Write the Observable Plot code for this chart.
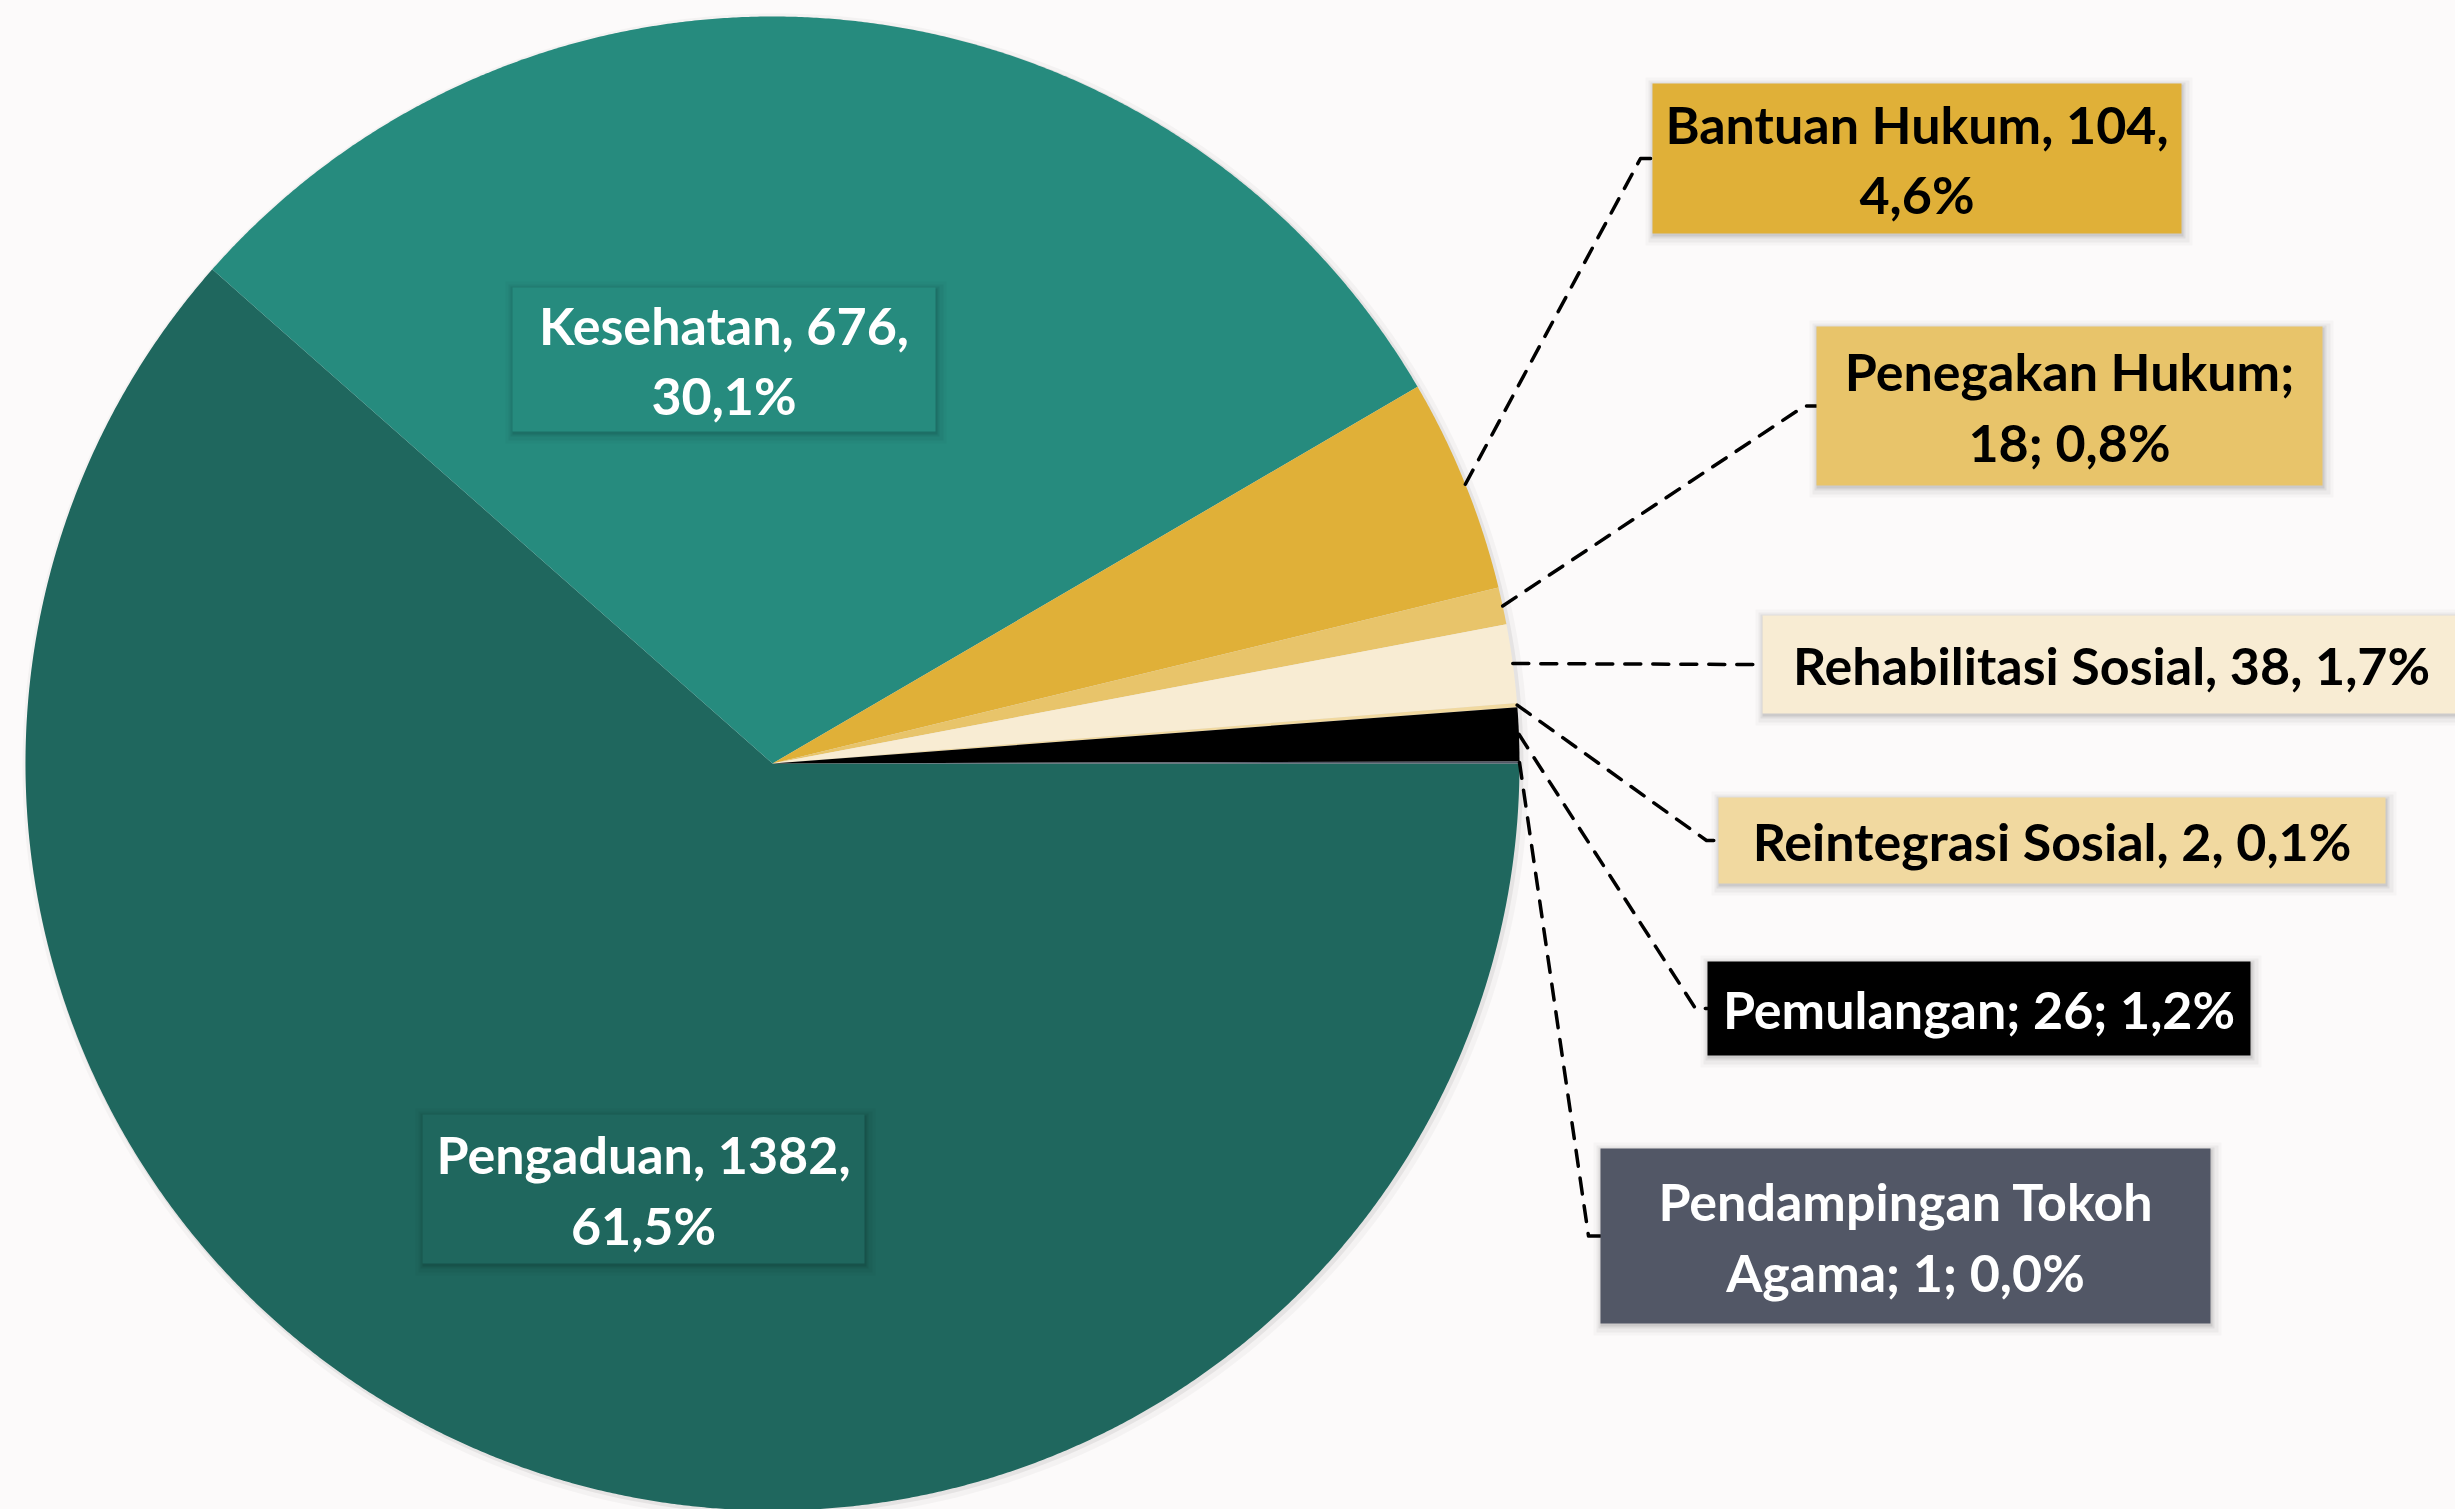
<!DOCTYPE html>
<html>
<head>
<meta charset="utf-8">
<script src="https://cdn.jsdelivr.net/npm/d3@7"></script>
<script src="https://cdn.jsdelivr.net/npm/@observablehq/plot@0.6"></script>
<style>
  html, body { margin: 0; padding: 0; background: #fcfafa; }
  #chart svg { display: block; }
</style>
</head>
<body>
<div id="chart"></div>
<script>
// ---------- data ----------
const categories = [
  "Pengaduan", "Kesehatan", "Bantuan Hukum", "Penegakan Hukum",
  "Rehabilitasi Sosial", "Reintegrasi Sosial", "Pemulangan", "Pendampingan Tokoh Agama"
];
const values = [1382, 676, 104, 18, 38, 2, 26, 1];
const labels = [
  "Pengaduan, 1382,\n61,5%",
  "Kesehatan, 676,\n30,1%",
  "Bantuan Hukum, 104,\n4,6%",
  "Penegakan Hukum;\n18; 0,8%",
  "Rehabilitasi Sosial, 38, 1,7%",
  "Reintegrasi Sosial, 2, 0,1%",
  "Pemulangan; 26; 1,2%",
  "Pendampingan Tokoh\nAgama; 1; 0,0%"
];
const colors = ["#1f675e", "#268b7e", "#e0b038", "#e8c46a", "#f8ecd3", "#f1d9a0", "#000000", "#525766"];
const textColors = ["#ffffff", "#ffffff", "#000000", "#000000", "#000000", "#000000", "#ffffff", "#ffffff"];

// ---------- layout (pixels) ----------
const W = 2455, H = 1509;
const CX = 772, CY = 763, R = 747;
// label boxes: [left, top, right, bottom]
const boxes = [
  [422, 1114, 864, 1263],
  [512, 287, 935, 431],
  [1652, 83, 2181, 233],
  [1816, 326, 2322, 485],
  [1762, 615, 2460, 713],
  [1718, 797, 2385, 883],
  [1707, 961, 2250, 1055],
  [1600, 1148, 2210, 1323]
];
const hasLeader = [false, false, true, true, true, true, true, true];
const tick = 12;
const FONT = "Lato, 'Open Sans', sans-serif";

// ---------- build geometry from data ----------
const rows = categories.map((c, i) => ({
  category: c, value: values[i], label: labels[i],
  color: colors[i], textColor: textColors[i], box: boxes[i], leader: hasLeader[i]
}));

const pie = d3.pie().sort(null).value(d => d.value)
  .startAngle(Math.PI / 2).endAngle(Math.PI / 2 + 2 * Math.PI);
const arcs = pie(rows);
const pt = (a, r) => [CX + r * Math.sin(a), CY - r * Math.cos(a)];

const slices = arcs.map(a => {
  const n = Math.max(2, Math.ceil((a.endAngle - a.startAngle) / 0.004));
  const ring = [[CX, CY]];
  for (let k = 0; k <= n; k++) ring.push(pt(a.startAngle + (a.endAngle - a.startAngle) * k / n, R));
  ring.push([CX, CY]);
  return {type: "Feature", properties: a.data, geometry: {type: "Polygon", coordinates: [ring]}};
});

function circle(cx, cy, r) {
  const ring = d3.range(0, 361, 1).map(d => [cx + r * Math.cos(d * Math.PI / 180), cy + r * Math.sin(d * Math.PI / 180)]);
  return {type: "Feature", properties: {}, geometry: {type: "Polygon", coordinates: [ring]}};
}
function rectFeature(b, dx = 0, dy = 0, grow = 0, props = {}) {
  const [x0, y0, x1, y1] = b;
  const ring = [[x0 + dx - grow, y0 + dy - grow], [x1 + dx + grow, y0 + dy - grow], [x1 + dx + grow, y1 + dy + grow], [x0 + dx - grow, y1 + dy + grow], [x0 + dx - grow, y0 + dy - grow]];
  return {type: "Feature", properties: props, geometry: {type: "Polygon", coordinates: [ring]}};
}

const boxFeatures = rows.map(r => rectFeature(r.box, 0, 0, 0, r));
const shadowLayers = [[2, 3, 9, 0.025], [2, 3, 6, 0.04], [1, 2, 3, 0.06], [1, 2, 1, 0.08]];

const leaders = arcs.filter(a => a.data.leader).map(a => {
  const mid = (a.startAngle + a.endAngle) / 2;
  const [x0, y0, x1, y1] = a.data.box;
  const cy = (y0 + y1) / 2;
  return {type: "Feature", properties: a.data, geometry: {type: "LineString",
    coordinates: [pt(mid, R), [x0 - tick, cy], [x0, cy]]}};
});

const textRows = rows.map(r => ({...r, tx: (r.box[0] + r.box[2]) / 2, ty: (r.box[1] + r.box[3]) / 2 - 2}));

const chart = Plot.plot({
  width: W,
  height: H,
  margin: 0,
  projection: {type: "identity", domain: {type: "MultiPoint", coordinates: [[0, 0], [W, H]]}},
  color: {type: "identity"},
  style: {background: "#fcfafa", fontFamily: FONT},
  marks: [
    // soft shadow behind the pie
    Plot.geo([circle(CX + 3, CY + 3, R + 6)], {fill: "#000", fillOpacity: 0.03}),
    Plot.geo([circle(CX + 2, CY + 2, R + 2)], {fill: "#000", fillOpacity: 0.06}),
    // slices
    Plot.geo(slices, {fill: d => d.properties.color}),
    // leader lines
    Plot.geo(leaders, {stroke: "#000", strokeWidth: 3.5, strokeDasharray: "16,12", fill: "none"}),
    // label boxes with shadow
    ...shadowLayers.map(([dx, dy, g, o]) =>
      Plot.geo(rows.map(r => rectFeature(r.box, dx, dy, g)), {fill: "#000", fillOpacity: o})),
    Plot.geo(boxFeatures, {fill: d => d.properties.color}),
    // label text
    Plot.text(textRows, {
      x: "tx", y: "ty", text: "label", fill: "textColor",
      fontSize: 52, fontWeight: "bold", fontFamily: FONT, lineHeight: 1.35,
      textAnchor: "middle", lineAnchor: "middle"
    })
  ]
});
document.getElementById("chart").appendChild(chart);
</script>
</body>
</html>
